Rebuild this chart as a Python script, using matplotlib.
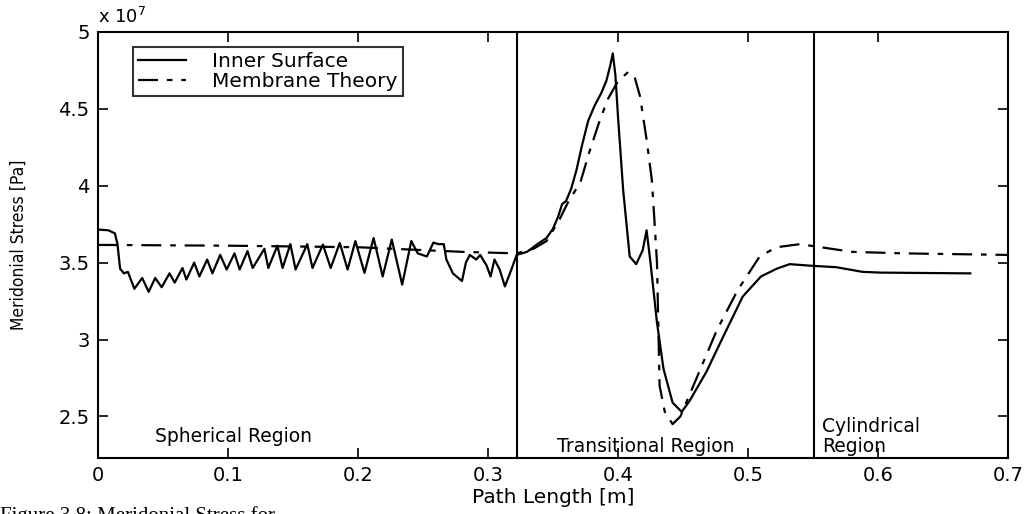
#!/usr/bin/python3
# -*-coding: utf-8 -*-
#
# Esfuerzo meridional: superficie interna vs teoria de membrana
#
import matplotlib
matplotlib.use('Agg')
import matplotlib.pyplot as plt

# Path length [m] and stress [x 1e7 Pa]
x_inner = [0.000, 0.008, 0.013, 0.015, 0.017, 0.020, 0.023,
           0.028, 0.034, 0.039, 0.044, 0.049, 0.055, 0.059, 0.065, 0.068, 0.074,
           0.078, 0.084, 0.088, 0.094, 0.099, 0.105, 0.109, 0.115, 0.119, 0.128,
           0.131, 0.138, 0.142, 0.148, 0.152, 0.161, 0.165, 0.173, 0.179, 0.186,
           0.192, 0.198, 0.205, 0.212, 0.219, 0.226, 0.234, 0.241, 0.246, 0.253,
           0.258, 0.262, 0.266, 0.268, 0.273, 0.280, 0.283, 0.286, 0.291, 0.294,
           0.299, 0.302, 0.305, 0.309, 0.313, 0.318, 0.322,
           0.330, 0.338, 0.345, 0.350, 0.354, 0.357, 0.360, 0.364, 0.368, 0.372,
           0.377, 0.382, 0.387, 0.391, 0.394, 0.396, 0.398, 0.400, 0.404, 0.409,
           0.414, 0.419, 0.422, 0.425, 0.430, 0.435, 0.442, 0.449, 0.455, 0.468,
           0.481, 0.496, 0.510, 0.522, 0.532, 0.548, 0.568, 0.588, 0.602, 0.671]
y_inner = [3.715, 3.710, 3.690, 3.620, 3.460, 3.430, 3.440,
           3.330, 3.400, 3.310, 3.400, 3.340, 3.430, 3.370, 3.465, 3.390, 3.500,
           3.410, 3.520, 3.430, 3.550, 3.455, 3.560, 3.455, 3.575, 3.465, 3.590,
           3.465, 3.610, 3.465, 3.620, 3.455, 3.620, 3.465, 3.617, 3.465, 3.628,
           3.455, 3.640, 3.433, 3.660, 3.410, 3.650, 3.357, 3.640, 3.560, 3.540,
           3.630, 3.620, 3.620, 3.520, 3.430, 3.380, 3.500, 3.550, 3.520, 3.550,
           3.480, 3.410, 3.520, 3.455, 3.345, 3.455, 3.550,
           3.570, 3.620, 3.660, 3.720, 3.800, 3.880, 3.900, 3.980, 4.100, 4.250,
           4.420, 4.520, 4.600, 4.680, 4.780, 4.860, 4.720, 4.450, 3.970, 3.540,
           3.490, 3.580, 3.710, 3.500, 3.110, 2.810, 2.590, 2.530, 2.600, 2.790,
           3.020, 3.280, 3.410, 3.460, 3.490, 3.480, 3.470, 3.440, 3.435, 3.430]

x_membrane = [0.000, 0.100, 0.200, 0.280, 0.322, 0.335, 0.345, 0.355, 0.362,
              0.371, 0.378, 0.385, 0.392, 0.400, 0.408, 0.413, 0.417, 0.422,
              0.426, 0.428, 0.430, 0.431, 0.432, 0.436, 0.442, 0.448, 0.460,
              0.476, 0.492, 0.509, 0.522, 0.540, 0.548, 0.580, 0.620, 0.700]
y_membrane = [3.615, 3.610, 3.600, 3.570, 3.560, 3.590, 3.640, 3.780, 3.900,
              4.020, 4.220, 4.400, 4.560, 4.680, 4.740, 4.700, 4.580, 4.300,
              4.040, 3.780, 3.500, 3.100, 2.700, 2.530, 2.450, 2.500, 2.740,
              3.060, 3.320, 3.540, 3.600, 3.620, 3.610, 3.570, 3.560, 3.550]

region_bounds = [0.322, 0.551]
region_names = ['Spherical Region', 'Transitional Region', 'Cylindrical\nRegion']
region_pos = [(0.044, 2.37), (0.353, 2.305), (0.557, 2.37)]

if __name__ == '__main__':
    plt.rcParams['font.family'] = ['DejaVu Sans']

    fig = plt.figure(figsize=(10.25, 5.14), dpi=100)
    ax = fig.add_axes([0.0956, 0.109, 0.8878, 0.829])

    ax.plot(x_inner, y_inner, color='black', lw=1.6, label='Inner Surface')
    ax.plot(x_membrane, y_membrane, color='black', lw=1.6,
            dashes=(9, 4, 2.5, 4), label='Membrane Theory')

    for xb in region_bounds:
        ax.axvline(xb, color='black', lw=1.5)
    for nombre, (px, py) in zip(region_names, region_pos):
        ax.text(px, py, nombre, fontsize=13.5, ha='left', va='center',
                linespacing=1.1)

    ax.set_xlim(0, 0.7)
    ax.set_ylim(2.23, 5)
    ax.set_xticks([0, 0.1, 0.2, 0.3, 0.4, 0.5, 0.6, 0.7])
    ax.set_xticklabels(['0', '0.1', '0.2', '0.3', '0.4', '0.5', '0.6', '0.7'])
    ax.set_yticks([2.5, 3, 3.5, 4, 4.5, 5])
    ax.set_yticklabels(['2.5', '3', '3.5', '4', '4.5', '5'])
    ax.tick_params(direction='in', length=7, width=1.2, top=True, right=True,
                   labelsize=14, pad=6)
    for s in ax.spines.values():
        s.set_linewidth(1.5)

    ax.set_xlabel('Path Length [m]', fontsize=14.5, labelpad=2)
    ax.set_ylabel('Meridonial Stress [Pa]', fontsize=12.5,
                  fontstretch='condensed', labelpad=22)
    ax.text(0.0, 1.012, r'x 10$^{7}$', transform=ax.transAxes, fontsize=13,
            ha='left', va='bottom')

    leg = ax.legend(loc='upper left', bbox_to_anchor=(0.038, 0.965), fontsize=14.5,
                    frameon=True, fancybox=False, edgecolor='black',
                    handlelength=2.4, borderpad=0.25, labelspacing=0.05,
                    handletextpad=1.3, borderaxespad=0)
    leg.get_frame().set_linewidth(1.5)

    fig.text(0.0, 0.016, 'Figure 3.8: Meridonial Stress for',
             family=['Liberation Serif', 'DejaVu Serif'], fontsize=15,
             ha='left', va='top')

    fig.savefig('out.png', dpi=100)
